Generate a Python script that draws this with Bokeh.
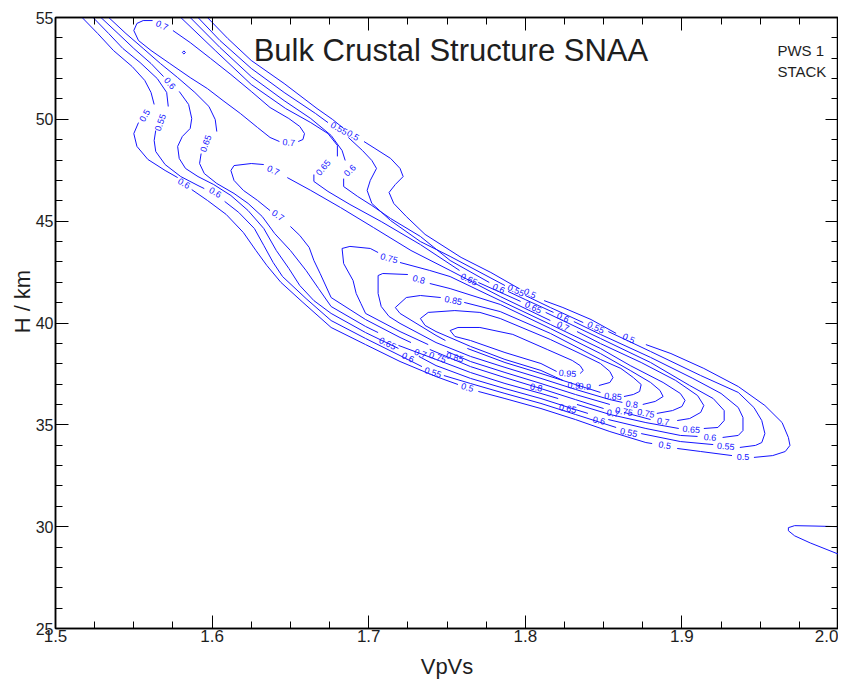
from bokeh.plotting import figure
from bokeh.models import Range1d, LinearAxis, FixedTicker, Label, ColumnDataSource, PrintfTickFormatter
from bokeh.core.properties import value
from bokeh.embed import file_html
from bokeh.resources import INLINE

# ---------------- data ----------------
XMAJOR = [1.5, 1.6, 1.7, 1.8, 1.9, 2.0]
XMINOR = [1.525, 1.55, 1.575, 1.625, 1.65, 1.675, 1.725, 1.75, 1.775,
          1.825, 1.85, 1.875, 1.925, 1.95, 1.975]
YMAJOR = [25, 30, 35, 40, 45, 50, 55]
YMINOR = [26, 27, 28, 29, 31, 32, 33, 34, 36, 37, 38, 39, 41, 42, 43, 44,
          46, 47, 48, 49, 51, 52, 53, 54]

# contour lines (VpVs, H) - each level is a list of pieces (gaps at labels)
C050 = [
    [(1.517, 55.00), (1.527, 54.21), (1.537, 53.38), (1.549, 52.59), (1.557, 51.91), (1.561, 51.32), (1.563, 50.73)],
    [(1.553, 49.84), (1.550, 49.30), (1.552, 48.67), (1.559, 48.03), (1.570, 47.49), (1.578, 47.14)],
    [(1.587, 46.55), (1.597, 46.02), (1.609, 45.33), (1.620, 44.44), (1.628, 43.56), (1.635, 42.82), (1.644, 41.99),
     (1.658, 41.01), (1.676, 39.78), (1.698, 38.94), (1.720, 38.11), (1.743, 37.37), (1.757, 36.98)],
    [(1.770, 36.64), (1.787, 36.29), (1.810, 35.80), (1.832, 35.26), (1.854, 34.67), (1.877, 34.13), (1.881, 34.08)],
    [(1.897, 33.84), (1.912, 33.69), (1.932, 33.49)],
    [(1.946, 33.40), (1.958, 33.49), (1.966, 33.69), (1.969, 33.99), (1.968, 34.38), (1.964, 35.11), (1.953, 35.95),
     (1.936, 36.88), (1.914, 37.77), (1.893, 38.50), (1.877, 38.94)],
    [(1.858, 39.49), (1.842, 40.17), (1.824, 40.76), (1.812, 41.10)],
    [(1.796, 41.69), (1.778, 42.48), (1.759, 43.22), (1.736, 44.35), (1.724, 45.23), (1.716, 45.87), (1.713, 46.41),
     (1.717, 46.80), (1.722, 47.19), (1.720, 47.59), (1.714, 48.08), (1.704, 48.57), (1.697, 48.91)],
    [(1.684, 49.55), (1.677, 49.99), (1.667, 50.53), (1.646, 51.76), (1.625, 52.89), (1.610, 53.97), (1.597, 55.00)],
    [(2.000, 30.00), (1.985, 30.03), (1.972, 30.05), (1.968, 29.95), (1.968, 29.80), (1.972, 29.55), (1.982, 29.20),
     (2.000, 28.65)],
]
C055 = [
    [(1.524, 55.00), (1.534, 54.21), (1.543, 53.48), (1.554, 52.79), (1.565, 52.00), (1.571, 51.32), (1.572, 50.63)],
    [(1.564, 49.45), (1.563, 48.96), (1.564, 48.42), (1.570, 47.78), (1.580, 47.19), (1.591, 46.75), (1.595, 46.60)],
    [(1.608, 45.97), (1.617, 45.43), (1.627, 44.64), (1.633, 43.81), (1.639, 42.97), (1.645, 42.28), (1.660, 41.20),
     (1.676, 40.12), (1.698, 39.24), (1.720, 38.40), (1.734, 37.86)],
    [(1.748, 37.42), (1.765, 37.03), (1.787, 36.54), (1.810, 36.05), (1.832, 35.51), (1.858, 34.87)],
    [(1.874, 34.57), (1.899, 34.18), (1.920, 34.03)],
    [(1.937, 33.89), (1.947, 33.99), (1.951, 34.13), (1.953, 34.57), (1.951, 35.21), (1.946, 35.85), (1.936, 36.59),
     (1.912, 37.42), (1.880, 38.60), (1.853, 39.58)],
    [(1.837, 40.02), (1.816, 40.76), (1.800, 41.35)],
    [(1.787, 41.84), (1.752, 43.27), (1.733, 44.00), (1.714, 45.03), (1.702, 45.87), (1.699, 46.51), (1.701, 47.00),
     (1.705, 47.59), (1.702, 47.98), (1.696, 48.47), (1.687, 49.11)],
    [(1.674, 49.84), (1.666, 50.29), (1.646, 51.32), (1.625, 52.50), (1.605, 53.87), (1.591, 55.00)],
]
C060 = [
    [(1.529, 55.00), (1.540, 54.21), (1.550, 53.48), (1.561, 52.74), (1.569, 52.10)],
    [(1.579, 51.37), (1.585, 50.73), (1.587, 50.04), (1.586, 49.55), (1.581, 49.16), (1.578, 48.67), (1.579, 48.08),
     (1.583, 47.59), (1.591, 47.19), (1.601, 46.80), (1.612, 46.26), (1.623, 45.52), (1.633, 44.64), (1.641, 43.56),
     (1.649, 42.68), (1.656, 41.84), (1.665, 41.10), (1.676, 40.47), (1.698, 39.53), (1.719, 38.75)],
    [(1.732, 38.36), (1.743, 37.91), (1.765, 37.28), (1.787, 36.78), (1.810, 36.29), (1.832, 35.75), (1.840, 35.56)],
    [(1.853, 35.26), (1.877, 34.82), (1.899, 34.48), (1.910, 34.43)],
    [(1.926, 34.38), (1.936, 34.48), (1.939, 34.72), (1.939, 35.36), (1.936, 35.85), (1.925, 36.54), (1.907, 37.28),
     (1.880, 38.31), (1.848, 39.44), (1.831, 40.07)],
    [(1.818, 40.52), (1.800, 41.15), (1.789, 41.55)],
    [(1.777, 41.99), (1.752, 43.07), (1.733, 44.25), (1.714, 45.13), (1.702, 45.77), (1.693, 46.21), (1.684, 46.70),
     (1.684, 47.09)],
    [(1.685, 47.98), (1.683, 48.47), (1.676, 49.21), (1.663, 50.04), (1.646, 50.92), (1.625, 52.10), (1.605, 53.53),
     (1.586, 55.00)],
]
C065 = [
    [(1.534, 55.00), (1.545, 54.21), (1.556, 53.48), (1.567, 52.74), (1.578, 52.05), (1.589, 51.32), (1.598, 50.63),
     (1.602, 49.99), (1.603, 49.40)],
    [(1.593, 48.32), (1.592, 47.83), (1.595, 47.34), (1.603, 46.85), (1.614, 46.36), (1.623, 45.87), (1.632, 45.23),
     (1.640, 44.39), (1.650, 43.56), (1.660, 42.58), (1.668, 41.69), (1.676, 40.81), (1.698, 39.83), (1.706, 39.53)],
    [(1.719, 38.90), (1.743, 38.21), (1.765, 37.57), (1.787, 37.03), (1.810, 36.54), (1.821, 36.29)],
    [(1.833, 36.00), (1.854, 35.51), (1.877, 35.11), (1.898, 34.82)],
    [(1.914, 34.82), (1.923, 34.87), (1.927, 35.21), (1.927, 35.70), (1.920, 36.29), (1.905, 36.93), (1.880, 38.06),
     (1.848, 39.24), (1.813, 40.52)],
    [(1.797, 41.06), (1.770, 41.99)],
    [(1.758, 42.58), (1.733, 43.85), (1.708, 44.98), (1.688, 45.82), (1.674, 46.46), (1.665, 46.95), (1.665, 47.29)],
    [(1.680, 48.18), (1.680, 48.72), (1.674, 49.30), (1.663, 49.84), (1.647, 50.53), (1.625, 51.71), (1.602, 53.38),
     (1.580, 55.00)],
]
C070 = [
    [(1.575, 54.36), (1.586, 53.77), (1.599, 52.99), (1.612, 52.20), (1.625, 51.37), (1.637, 50.58), (1.649, 50.04),
     (1.656, 49.65), (1.659, 49.30), (1.658, 49.01), (1.655, 48.91)],
    [(1.643, 48.91), (1.637, 49.11), (1.629, 49.60), (1.618, 50.29), (1.607, 50.92), (1.597, 51.51), (1.586, 52.05),
     (1.573, 52.74), (1.561, 53.38), (1.553, 53.87), (1.550, 54.36), (1.552, 54.71), (1.556, 54.85), (1.562, 54.85)],
    [(1.612, 47.49), (1.614, 47.73), (1.625, 47.83), (1.633, 47.78)],
    [(1.648, 47.14), (1.663, 46.51), (1.682, 45.67), (1.703, 44.69), (1.727, 43.56), (1.752, 42.58), (1.784, 41.30),
     (1.816, 40.12)],
    [(1.833, 39.58), (1.848, 38.99), (1.874, 38.06), (1.896, 37.18), (1.910, 36.44), (1.914, 35.95), (1.912, 35.61),
     (1.905, 35.31), (1.897, 35.21)],
    [(1.880, 35.26), (1.863, 35.61)],
    [(1.850, 35.80), (1.832, 36.24), (1.810, 36.78), (1.787, 37.32), (1.765, 37.86), (1.739, 38.70)],
    [(1.727, 39.04), (1.720, 39.29), (1.698, 40.17), (1.676, 41.25), (1.669, 42.43), (1.665, 43.07), (1.662, 43.71),
     (1.656, 44.30), (1.650, 44.74)],
    [(1.637, 45.52), (1.629, 46.02), (1.620, 46.51), (1.614, 47.00), (1.612, 47.49)],
]
C075 = [
    [(1.706, 43.46), (1.701, 43.66), (1.688, 43.76), (1.683, 43.66), (1.684, 42.92), (1.690, 42.09), (1.692, 41.45),
     (1.695, 40.96), (1.698, 40.47), (1.720, 39.58), (1.738, 38.94)],
    [(1.750, 38.60), (1.765, 38.11), (1.787, 37.57), (1.810, 37.03), (1.832, 36.49), (1.854, 36.00)],
    [(1.884, 35.56), (1.894, 35.70), (1.900, 35.90), (1.902, 36.20), (1.899, 36.54), (1.888, 37.08), (1.867, 37.91),
     (1.848, 38.75), (1.816, 39.93), (1.784, 41.10), (1.752, 42.28), (1.739, 42.58), (1.720, 42.97)],
    [(1.581, 53.28), (1.582, 53.36), (1.583, 53.28), (1.582, 53.21), (1.581, 53.28)],
]
C080 = [
    [(1.725, 42.38), (1.709, 42.43), (1.706, 42.33), (1.706, 41.45), (1.708, 40.81), (1.713, 40.32), (1.720, 39.98),
     (1.743, 39.04), (1.765, 38.36), (1.787, 37.82), (1.810, 37.28), (1.832, 36.74), (1.854, 36.24), (1.862, 36.10)],
    [(1.875, 36.00), (1.883, 36.15), (1.888, 36.39), (1.886, 36.69), (1.880, 37.08), (1.867, 37.67), (1.848, 38.50),
     (1.816, 39.73), (1.784, 40.91), (1.752, 41.69), (1.739, 41.94)],
]
C085 = [
    [(1.746, 41.25), (1.733, 41.35), (1.724, 41.25), (1.717, 40.76), (1.720, 40.47), (1.743, 39.39), (1.749, 39.14)],
    [(1.763, 38.75), (1.787, 38.06), (1.810, 37.52), (1.832, 36.98), (1.848, 36.59)],
    [(1.863, 36.39), (1.869, 36.49), (1.873, 36.64), (1.874, 36.98), (1.869, 37.32), (1.861, 37.77), (1.848, 38.21),
     (1.816, 39.49), (1.784, 40.56), (1.761, 41.01)],
]
C090 = [
    [(1.824, 37.18), (1.810, 37.67), (1.787, 38.21), (1.765, 38.85), (1.743, 39.58), (1.736, 39.88), (1.733, 40.22),
     (1.738, 40.52), (1.755, 40.61), (1.771, 40.52), (1.784, 40.22), (1.816, 39.19), (1.835, 38.50), (1.848, 38.01),
     (1.854, 37.62), (1.856, 37.32), (1.854, 37.08), (1.847, 36.93)],
]
C095 = [
    [(1.820, 37.62), (1.810, 38.01), (1.787, 38.55), (1.765, 39.14), (1.755, 39.34), (1.752, 39.63), (1.757, 39.78),
     (1.771, 39.78), (1.792, 39.44), (1.814, 38.70), (1.830, 38.16), (1.835, 37.91), (1.837, 37.67), (1.835, 37.52)],
]

# contour labels: (VpVs, H, text, angle in degrees)
CLABELS = [
    (1.568, 54.61, "0.7", -25), (1.557, 50.19, "0.5", 60), (1.567, 49.84, "0.55", 70),
    (1.573, 51.76, "0.6", -50), (1.596, 48.81, "0.65", 70), (1.582, 46.85, "0.6", -30),
    (1.602, 46.41, "0.6", -30), (1.649, 48.86, "0.7", -5), (1.639, 47.49, "0.7", -25),
    (1.642, 45.28, "0.7", -35), (1.681, 49.55, "0.55", -30), (1.690, 49.21, "0.5", -30),
    (1.671, 47.63, "0.65", 50), (1.688, 47.49, "0.6", 45), (1.713, 43.17, "0.75", -15),
    (1.732, 42.14, "0.8", -15), (1.754, 41.10, "0.85", -12), (1.764, 42.14, "0.65", -25),
    (1.783, 41.69, "0.6", -25), (1.794, 41.60, "0.55", -25), (1.803, 41.45, "0.5", -25),
    (1.805, 40.76, "0.65", -25), (1.824, 40.27, "0.6", -25), (1.824, 39.83, "0.7", -25),
    (1.845, 39.78, "0.55", -25), (1.866, 39.24, "0.5", -25), (1.712, 38.99, "0.65", -25),
    (1.725, 38.31, "0.6", -25), (1.733, 38.50, "0.7", -20), (1.744, 38.31, "0.75", -20),
    (1.755, 38.31, "0.85", -15), (1.741, 37.57, "0.55", -18), (1.763, 36.83, "0.5", -15),
    (1.807, 36.83, "0.8", -12), (1.827, 37.52, "0.95", -5), (1.831, 36.93, "0.9", -5),
    (1.838, 36.88, "0.9", -5), (1.856, 36.39, "0.85", -5), (1.868, 36.00, "0.8", -8),
    (1.863, 35.65, "0.75", -10), (1.856, 35.56, "0.7", -10), (1.877, 35.56, "0.75", -10),
    (1.888, 35.16, "0.7", -10), (1.906, 34.77, "0.65", -5), (1.918, 34.38, "0.6", -5),
    (1.928, 33.94, "0.55", -5), (1.939, 33.40, "0.5", 0), (1.827, 35.80, "0.65", -12),
    (1.847, 35.21, "0.6", -12), (1.866, 34.62, "0.55", -12), (1.889, 33.99, "0.5", -10),
]

TITLE = "Bulk Crustal Structure SNAA"
NOTE1 = "PWS 1"
NOTE2 = "STACK"
XLABEL = "VpVs"
YLABEL = "H / km"

# ---------------- figure ----------------
FONT = "Liberation Sans"
BLUE = "#1414ff"
INK = "#1e1e1e"

p = figure(width=838, height=682, x_range=Range1d(1.5, 2.0), y_range=Range1d(25, 55),
           x_axis_type=None, y_axis_type=None, output_backend="svg",
           toolbar_location=None, min_border_left=55, min_border_right=0,
           min_border_top=17, min_border_bottom=54)
p.outline_line_color = "black"
p.outline_line_width = 1.5
p.background_fill_color = "white"
p.border_fill_color = "white"


def make_axis(ticks, minor, show):
    ax = LinearAxis(ticker=FixedTicker(ticks=ticks, minor_ticks=minor))
    ax.axis_line_color = "black"
    ax.axis_line_width = 1.5
    ax.major_tick_in = 13
    ax.major_tick_out = 0
    ax.minor_tick_in = 7
    ax.minor_tick_out = 0
    ax.major_tick_line_color = "black"
    ax.minor_tick_line_color = "black"
    if show:
        ax.major_label_text_font = FONT
        ax.major_label_text_color = INK
    else:
        ax.major_label_text_font_size = "0px"
        ax.major_label_text_color = None
        ax.major_label_standoff = 0
    return ax


bx = make_axis(XMAJOR, XMINOR, True)
bx.formatter = PrintfTickFormatter(format="%.1f")
bx.major_label_text_font_size = "17px"
bx.major_label_standoff = 1
bx.axis_label = XLABEL
bx.axis_label_text_font = FONT
bx.axis_label_text_font_size = "22px"
bx.axis_label_text_font_style = "normal"
bx.axis_label_text_color = INK
bx.axis_label_standoff = 9

ly = make_axis(YMAJOR, YMINOR, True)
ly.major_label_text_font_size = "16px"
ly.major_label_standoff = 2
ly.axis_label = "\u00a0" * 7 + YLABEL
ly.axis_label_text_font = FONT
ly.axis_label_text_font_size = "22px"
ly.axis_label_text_font_style = "normal"
ly.axis_label_text_color = INK
ly.axis_label_standoff = -2

p.add_layout(bx, "below")
p.add_layout(ly, "left")
p.add_layout(make_axis(XMAJOR, XMINOR, False), "above")
p.add_layout(make_axis(YMAJOR, YMINOR, False), "right")

xs, ys = [], []
for level in (C050, C055, C060, C065, C070, C075, C080, C085, C090, C095):
    for piece in level:
        xs.append([pt[0] for pt in piece])
        ys.append([pt[1] for pt in piece])
p.multi_line(xs="xs", ys="ys", source=ColumnDataSource(dict(xs=xs, ys=ys)),
             line_color=BLUE, line_width=1)

lab_src = ColumnDataSource(dict(
    x=[l[0] for l in CLABELS], y=[l[1] for l in CLABELS],
    t=[l[2] for l in CLABELS], a=[l[3] for l in CLABELS]))
p.text(x="x", y="y", text="t", angle="a", angle_units="deg", source=lab_src,
       text_font=value(FONT), text_font_size="9px", text_color=BLUE,
       text_align="center", text_baseline="middle")

p.add_layout(Label(x=1.7525, y=53.38, text=TITLE, text_font=FONT, text_font_size="31px",
                   text_color=INK, text_align="center", text_baseline="alphabetic"))
p.add_layout(Label(x=1.961, y=53.38, text=NOTE1, text_font=FONT, text_font_size="15px",
                   text_color=INK, text_align="left", text_baseline="alphabetic"))
p.add_layout(Label(x=1.961, y=52.35, text=NOTE2, text_font=FONT, text_font_size="15px",
                   text_color=INK, text_align="left", text_baseline="alphabetic"))

open("out.html", "w").write(file_html(p, INLINE))
